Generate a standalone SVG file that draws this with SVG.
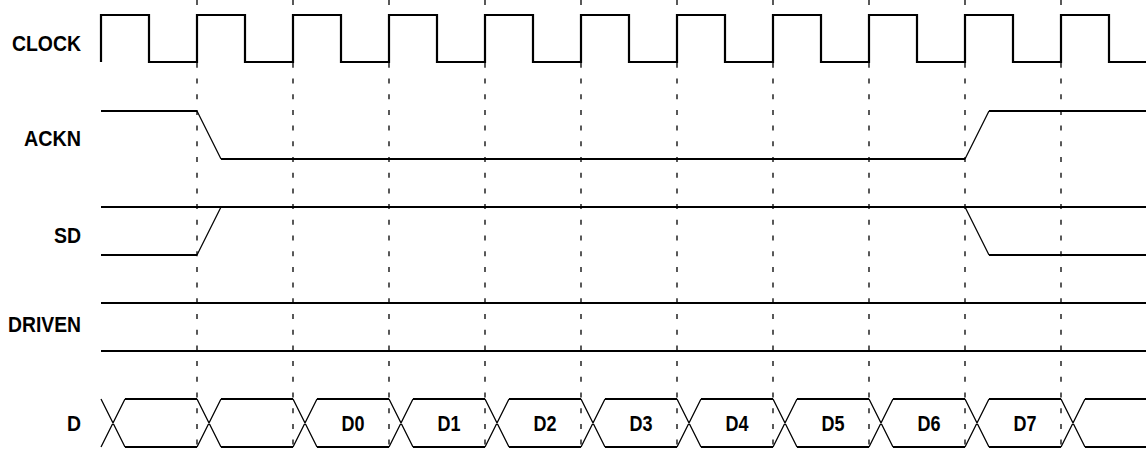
<svg xmlns="http://www.w3.org/2000/svg" width="1146" height="450" viewBox="0 0 1146 450">
<style>
.lbl{font-family:"Liberation Sans Narrow","Liberation Sans",Arial,sans-serif;font-weight:bold;font-size:22px;fill:#000;text-anchor:end}
.dl{font-family:"Liberation Sans Narrow","Liberation Sans",Arial,sans-serif;font-weight:bold;font-size:22px;fill:#000;text-anchor:middle}
.w{fill:none;stroke:#000;stroke-width:2.2;stroke-linejoin:miter}
.t{fill:none;stroke:#000;stroke-width:1.3}
.g{fill:none;stroke:#000;stroke-width:1.3;stroke-dasharray:5 10.7}
</style>
<rect width="1146" height="450" fill="#fff"/>
<g id="gridlines">
<path class="g" d="M197,0V450M293,0V450M389,0V450M485,0V450M581,0V450M677,0V450M773,0V450M869,0V450M965,0V450M1061,0V450"/>
</g>
<g id="clock">
<text class="lbl" x="81" y="51" textLength="69" lengthAdjust="spacingAndGlyphs">CLOCK</text>
<path class="w" d="M101,62V15H149V62H197V15H245V62H293V15H341V62H389V15H437V62H485V15H533V62H581V15H629V62H677V15H725V62H773V15H821V62H869V15H917V62H965V15H1013V62H1061V15H1109V62H1146"/>
</g>
<g id="ackn">
<text class="lbl" x="81" y="146" textLength="57" lengthAdjust="spacingAndGlyphs">ACKN</text>
<path class="w" d="M101,111H197"/>
<path class="t" d="M197,111L221,159"/>
<path class="w" d="M221,159H965"/>
<path class="t" d="M965,159L989,111"/>
<path class="w" d="M989,111H1146"/>
</g>
<g id="sd">
<text class="lbl" x="81" y="243" textLength="27" lengthAdjust="spacingAndGlyphs">SD</text>
<path class="w" d="M101,207H1146"/>
<path class="w" d="M101,255H197"/>
<path class="t" d="M197,255L221,207"/>
<path class="t" d="M965,207L989,255"/>
<path class="w" d="M989,255H1146"/>
</g>
<g id="driven">
<text class="lbl" x="81" y="332" textLength="73" lengthAdjust="spacingAndGlyphs">DRIVEN</text>
<path class="w" d="M101,303H1146M101,351H1146"/>
</g>
<g id="d">
<text class="lbl" x="81" y="431" textLength="14" lengthAdjust="spacingAndGlyphs">D</text>
<path class="w" d="M125,399H197M221,399H293M317,399H389M413,399H485M509,399H581M605,399H677M701,399H773M797,399H869M893,399H965M989,399H1061M1085,399H1146M125,447H197M221,447H293M317,447H389M413,447H485M509,447H581M605,447H677M701,447H773M797,447H869M893,447H965M989,447H1061M1085,447H1146"/>
<path class="t" d="M101,399L125,447M101,447L125,399M197,399L221,447M197,447L221,399M293,399L317,447M293,447L317,399M389,399L413,447M389,447L413,399M485,399L509,447M485,447L509,399M581,399L605,447M581,447L605,399M677,399L701,447M677,447L701,399M773,399L797,447M773,447L797,399M869,399L893,447M869,447L893,399M965,399L989,447M965,447L989,399M1061,399L1085,447M1061,447L1085,399"/>
<text class="dl" x="353" y="431" textLength="23" lengthAdjust="spacingAndGlyphs">D0</text>
<text class="dl" x="449" y="431" textLength="23" lengthAdjust="spacingAndGlyphs">D1</text>
<text class="dl" x="545" y="431" textLength="23" lengthAdjust="spacingAndGlyphs">D2</text>
<text class="dl" x="641" y="431" textLength="23" lengthAdjust="spacingAndGlyphs">D3</text>
<text class="dl" x="737" y="431" textLength="23" lengthAdjust="spacingAndGlyphs">D4</text>
<text class="dl" x="833" y="431" textLength="23" lengthAdjust="spacingAndGlyphs">D5</text>
<text class="dl" x="929" y="431" textLength="23" lengthAdjust="spacingAndGlyphs">D6</text>
<text class="dl" x="1025" y="431" textLength="23" lengthAdjust="spacingAndGlyphs">D7</text>
</g>
</svg>
